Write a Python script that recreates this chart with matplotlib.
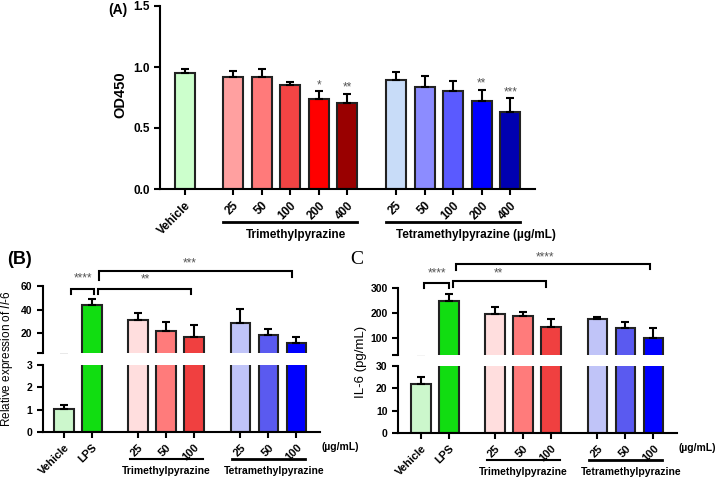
import numpy as np
import matplotlib
matplotlib.use('Agg')
import matplotlib.pyplot as plt
from matplotlib.transforms import blended_transform_factory

plt.rcParams['font.family'] = ['Liberation Sans', 'DejaVu Sans']
plt.rcParams['mathtext.fontset'] = 'custom'
plt.rcParams['mathtext.it'] = 'Liberation Sans:italic'
plt.rcParams['mathtext.rm'] = 'Liberation Sans'

# ---------------- Panel A data ----------------
a_labels = ['Vehicle', '25', '50', '100', '200', '400', '25', '50', '100', '200', '400']
a_means = [0.95, 0.92, 0.92, 0.855, 0.735, 0.705, 0.895, 0.84, 0.80, 0.725, 0.635]
a_errs = [0.035, 0.045, 0.06, 0.025, 0.065, 0.075, 0.065, 0.09, 0.085, 0.09, 0.11]
a_stars = ['', '', '', '', '*', '**', '', '', '', '**', '***']
a_colors = ['#ccffcc', '#ffa0a0', '#ff7a7a', '#f24444', '#ff0000', '#990000',
            '#c8dcf8', '#8c8cff', '#5a5aff', '#0000ff', '#0000b0']

# ---------------- Panel B data ----------------
bc_labels = ['Vehicle', 'LPS', '25', '50', '100', '25', '50', '100']
b_means = [1.03, 44, 31.5, 22, 17, 28.5, 18, 11.5]
b_errs = [0.17, 5, 5.5, 7, 10, 12, 5, 5.5]

# ---------------- Panel C data ----------------
c_means = [22, 248, 198, 188, 143, 176, 140, 100]
c_errs = [3.2, 30, 25, 15, 32, 10, 24, 42]

bc_colors = ['#ccf7cc', '#11dd11', '#ffdede', '#ff7b7b', '#f04040',
             '#c0c4f8', '#5a5af0', '#0000ff']

groups = ['Trimethylpyrazine', 'Tetramethylpyrazine']
unit_label = '(\u00b5g/mL)'

W, H = 720, 478
fig = plt.figure(figsize=(W / 100, H / 100), dpi=100)


def box(x0, y0, x1, y1):
    return [x0 / W, 1 - y1 / H, (x1 - x0) / W, (y1 - y0) / H]


EDGE = '#222222'
STAR = '#555555'


def style(ax, bottom=True):
    for s in ['top', 'right']:
        ax.spines[s].set_visible(False)
    ax.spines['left'].set_linewidth(1.5)
    ax.spines['bottom'].set_linewidth(1.5)
    if not bottom:
        ax.spines['bottom'].set_visible(False)
        ax.tick_params(axis='x', bottom=False, labelbottom=False)
    ax.tick_params(width=1.5, length=4, direction='out')


# ================= Panel A =================
axA = fig.add_axes(box(160, 6, 535, 189))
a_pos = np.concatenate([[0.0], 1.68 + np.arange(5), 7.38 + np.arange(5)])
n = len(a_pos)
axA.bar(a_pos, a_means, width=0.7, color=a_colors, edgecolor=EDGE, linewidth=1.5, zorder=2)
axA.errorbar(a_pos, a_means, yerr=[np.zeros(n), a_errs], fmt='none', ecolor='black',
             elinewidth=1.5, capsize=3, capthick=1.5, zorder=3)
for p, m, e, s in zip(a_pos, a_means, a_errs, a_stars):
    if s:
        axA.text(p, m + e + 0.05, s, ha='center', va='center', fontsize=8.5, color=STAR)
axA.set_xlim(-0.87, 12.24)
axA.set_ylim(0, 1.5)
axA.set_yticks([0, 0.5, 1.0, 1.5])
axA.set_yticklabels(['0.0', '0.5', '1.0', '1.5'], fontsize=8.5, fontweight='bold')
axA.set_xticks(a_pos)
axA.set_xticklabels(a_labels, rotation=45, ha='right', rotation_mode='anchor',
                    fontsize=8.5, fontweight='bold')
style(axA)
trA = blended_transform_factory(axA.transData, axA.transAxes)
g1 = a_pos[1:6]
g2 = a_pos[6:11]
axA.plot([g1[0] - 0.35, g1[-1] + 0.35], [-0.18, -0.18], color='black', lw=2, transform=trA, clip_on=False)
axA.plot([g2[0] - 0.35, g2[-1] + 0.35], [-0.18, -0.18], color='black', lw=2, transform=trA, clip_on=False)
axA.text(g1.mean() + 0.2, -0.25, groups[0], transform=trA, ha='center', va='center',
         fontsize=8.5, fontweight='bold')
axA.text(g2[0], -0.25, groups[1] + ' ' + unit_label, transform=trA, ha='left', va='center',
         fontsize=8.5, fontweight='bold')
fig.text(120.5 / W, 1 - 95 / H, 'OD450', rotation=90, ha='center', va='center',
         fontsize=10.5, fontweight='bold')
fig.text(118 / W, 1 - 10 / H, '(A)', ha='center', va='center', fontsize=10, fontweight='bold')

# ================= Panels B & C =================
bc_pos = np.array([0.0, 1.0, 2.65, 3.65, 4.65, 6.3, 7.3, 8.3])


def broken_panel(x0, x1, ytop, ybrk_top, ybrk_bot, ybot, means, errs,
                 top_lim, top_ticks, bot_lim, bot_ticks, xlim):
    axT = fig.add_axes(box(x0, ytop, x1, ybrk_top))
    axB = fig.add_axes(box(x0, ybrk_bot, x1, ybot))
    m = len(bc_pos)
    for ax in (axT, axB):
        ax.bar(bc_pos, means, width=0.7, color=bc_colors, edgecolor=EDGE, linewidth=1.5, zorder=2)
        ax.errorbar(bc_pos, means, yerr=[np.zeros(m), errs], fmt='none', ecolor='black',
                    elinewidth=1.5, capsize=3, capthick=1.5, zorder=3)
        ax.set_xlim(*xlim)
    axT.set_ylim(*top_lim)
    axB.set_ylim(*bot_lim)
    style(axT, bottom=False)
    style(axB)
    axT.set_yticks([top_lim[0]] + list(top_ticks))
    axT.set_yticklabels([''] + [str(t) for t in top_ticks], fontsize=7.5, fontweight='bold')
    axB.set_yticks(bot_ticks)
    axB.set_yticklabels([str(t) for t in bot_ticks], fontsize=7.5, fontweight='bold')
    axB.set_xticks(bc_pos)
    axB.set_xticklabels(bc_labels, rotation=45, ha='right', rotation_mode='anchor',
                        fontsize=8, fontweight='bold')
    tr = blended_transform_factory(axB.transData, axB.transAxes)
    gg1 = bc_pos[2:5]
    gg2 = bc_pos[5:8]
    axB.plot([gg1[0] - 0.3, gg1[-1] + 0.3], [-0.40, -0.40], color='black', lw=1.5,
             transform=tr, clip_on=False)
    axB.plot([gg2[0] - 0.3, gg2[-1] + 0.3], [-0.40, -0.40], color='black', lw=2,
             transform=tr, clip_on=False)
    axB.text(gg1.mean(), -0.58, groups[0], transform=tr, ha='center', va='center',
             fontsize=7.5, fontweight='bold')
    axB.text(gg2.mean() + 0.2, -0.58, groups[1], transform=tr, ha='center', va='center',
             fontsize=7.5, fontweight='bold')
    axB.text(9.2, -0.22, unit_label, transform=tr, ha='left', va='center',
             fontsize=7.5, fontweight='bold')
    return axT, axB


def bracket(ax, xa, xb, yl, ya, yb, label, ytxt, xtxt):
    ax.plot([xa, xa, xb, xb], [ya, yl, yl, yb], color='black', lw=1.5, clip_on=False,
            solid_joinstyle='miter')
    ax.text(xtxt, ytxt, label, ha='center', va='center', fontsize=8.5, color=STAR,
            clip_on=False)


# Panel B
bT, bB = broken_panel(43, 320, 286, 353, 365, 432, b_means, b_errs,
                      (3, 60), [20, 40, 60], (0, 3), [0, 1, 2, 3], (-0.75, 9.14))
bracket(bT, bc_pos[0] + 0.25, bc_pos[1] + 0.07, 57.4, 53.2, 53.2, '****', 66.5, 0.68)
bracket(bT, bc_pos[1] + 0.2, bc_pos[4] - 0.1, 57.4, 53.2, 53.2, '**', 65.5, 2.9)
bracket(bT, bc_pos[1] + 0.25, bc_pos[7] - 0.15, 72.8, 65.1, 67.7, '***', 79, 4.5)
fig.text(7 / W, 1 - 359 / H, 'Relative expression of $\\mathit{Il}$-$\\mathit{6}$',
         rotation=90, ha='center', va='center', fontsize=8.5)
fig.text(19 / W, 1 - 259 / H, '(B)', ha='center', va='center', fontsize=13, fontweight='bold')

# Panel C
cT, cB = broken_panel(398, 677, 288, 355, 366, 433, c_means, c_errs,
                      (32, 300), [100, 200, 300], (0, 30), [0, 10, 20, 30], (-0.82, 9.14))
bracket(cT, bc_pos[0] + 0.1, bc_pos[1], 320, 300, 300, '****', 358, 0.57)
bracket(cT, bc_pos[1] + 0.14, bc_pos[4] - 0.18, 328, 304, 304, '**', 358, 2.75)
bracket(cT, bc_pos[1] + 0.25, bc_pos[7] - 0.14, 396, 372, 376, '****', 422, 4.43)
fig.text(361 / W, 1 - 362 / H, 'IL-6 (pg/mL)', rotation=90, ha='center', va='center',
         fontsize=9.5)
fig.text(357 / W, 1 - 260 / H, 'C', ha='center', va='center', fontsize=14,
         family='Liberation Serif')

fig.savefig('out.png', dpi=100)
